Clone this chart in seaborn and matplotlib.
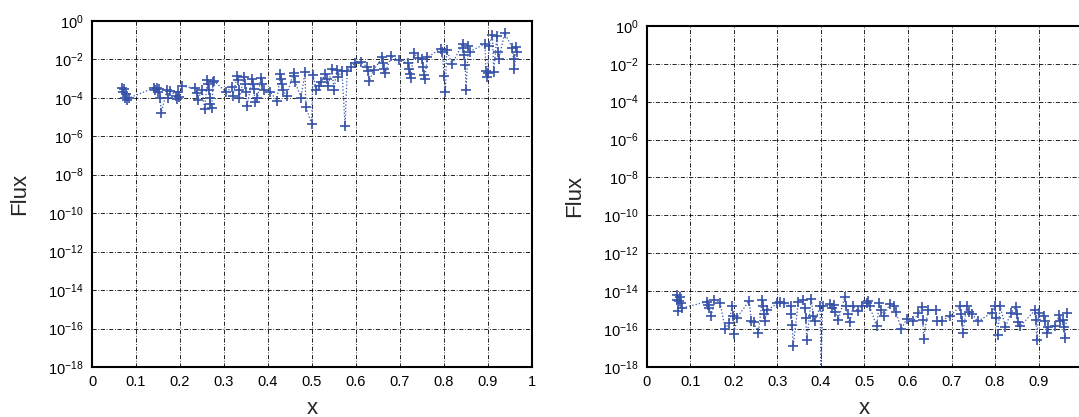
import numpy as np
import matplotlib
matplotlib.use("Agg")
import matplotlib.pyplot as plt
import seaborn as sns

# left panel: x and log10(flux)
left_x = [0.068, 0.070, 0.072, 0.074, 0.077, 0.080, 0.085,
          0.140, 0.143, 0.147, 0.150, 0.152, 0.155, 0.157, 0.170, 0.172, 0.178,
          0.190, 0.192, 0.195, 0.198, 0.205, 0.235, 0.238, 0.240, 0.250, 0.256,
          0.262, 0.264, 0.266, 0.268, 0.269, 0.272, 0.275, 0.278,
          0.305, 0.318, 0.320, 0.330, 0.332, 0.334, 0.335, 0.346, 0.348, 0.350,
          0.352, 0.364, 0.366, 0.368, 0.370, 0.376, 0.384, 0.386, 0.390,
          0.405, 0.420, 0.428, 0.430, 0.432, 0.434, 0.442, 0.458, 0.460, 0.462,
          0.475, 0.484, 0.486, 0.499, 0.502, 0.510, 0.515, 0.520, 0.530, 0.533,
          0.536, 0.545, 0.550, 0.556, 0.560, 0.568, 0.575, 0.580, 0.588, 0.598,
          0.612, 0.625, 0.628, 0.630, 0.640, 0.660, 0.662, 0.664, 0.666, 0.680,
          0.697, 0.718, 0.720, 0.722, 0.724, 0.732, 0.740, 0.750, 0.752, 0.754,
          0.756, 0.762, 0.792, 0.796, 0.800, 0.803, 0.806, 0.818, 0.842, 0.844,
          0.846, 0.848, 0.850, 0.855, 0.858, 0.893, 0.895, 0.897, 0.899, 0.902,
          0.910, 0.913, 0.920, 0.922, 0.924, 0.938, 0.955, 0.958, 0.960, 0.964,
          0.966]
left_logflux = [-3.5, -3.7, -3.55, -4.0, -3.8, -4.1, -4.0,
                -3.5, -3.6, -3.5, -3.7, -3.55, -4.0, -4.8, -3.6, -4.0, -3.65,
                -3.9, -4.05, -3.7, -3.95, -3.4, -3.5, -3.75, -4.1, -3.6, -4.6,
                -3.1, -3.3, -3.6, -4.0, -4.3, -4.55, -3.2, -3.15,
                -3.7, -3.45, -3.9, -2.85, -3.1, -3.6, -4.0, -2.9, -3.3, -3.7,
                -4.45, -3.0, -3.3, -3.55, -4.2, -4.0, -2.95, -3.3, -3.6,
                -3.7, -4.15, -2.75, -3.0, -3.3, -3.6, -3.9, -2.7, -2.85, -3.2,
                -4.0, -2.65, -4.5, -5.35, -2.8, -3.6, -3.4, -3.2, -2.75, -3.0,
                -3.4, -2.5, -3.6, -2.55, -2.9, -2.6, -5.45, -2.6, -2.4, -2.2,
                -2.15, -2.4, -2.6, -3.15, -2.55, -1.9, -2.2, -2.5, -2.7, -1.85,
                -2.05, -2.2, -2.5, -2.75, -2.95, -1.65, -1.95, -2.0, -2.4, -2.8,
                -3.05, -1.9, -1.45, -1.6, -2.85, -3.7, -1.5, -2.25, -1.2, -1.4,
                -1.8, -2.3, -3.6, -1.3, -1.6, -1.2, -2.6, -2.9, -2.7, -1.3,
                -0.75, -2.65, -0.8, -1.6, -2.0, -0.65, -1.4, -2.0, -2.5, -1.35,
                -1.6]

# right panel
right_x = [0.068, 0.070, 0.072, 0.074, 0.076, 0.078, 0.080,
           0.138, 0.140, 0.143, 0.148, 0.155, 0.168, 0.180, 0.188, 0.196, 0.198,
           0.200, 0.207, 0.235, 0.240, 0.245, 0.256, 0.265, 0.267, 0.269, 0.271,
           0.276, 0.300, 0.306, 0.314, 0.330, 0.332, 0.334, 0.336, 0.348, 0.358,
           0.363, 0.365, 0.367, 0.378, 0.382, 0.386, 0.398, 0.400, 0.404, 0.420,
           0.425, 0.430, 0.433, 0.440, 0.455, 0.458, 0.461, 0.466, 0.474, 0.485,
           0.494, 0.505, 0.509, 0.512, 0.528, 0.534, 0.537, 0.544, 0.558, 0.568,
           0.572, 0.585, 0.597, 0.612, 0.624, 0.632, 0.634, 0.636, 0.646, 0.664,
           0.667, 0.678, 0.697, 0.720, 0.722, 0.724, 0.726, 0.735, 0.740, 0.748,
           0.760, 0.792, 0.800, 0.803, 0.806, 0.812, 0.824, 0.836, 0.848, 0.850,
           0.852, 0.858, 0.892, 0.894, 0.896, 0.900, 0.912, 0.915, 0.920, 0.922,
           0.938, 0.948, 0.950, 0.956, 0.958, 0.960, 0.966]
right_logflux = [-14.2, -14.45, -15.05, -14.5, -14.3, -14.6, -14.9,
                 -14.55, -14.75, -14.9, -15.3, -14.45, -14.6, -16.0, -15.7, -14.8, -15.3,
                 -16.25, -15.4, -14.5, -15.6, -15.65, -16.2, -14.45, -14.8, -15.2, -15.6,
                 -15.0, -14.65, -14.55, -14.6, -14.8, -15.2, -15.8, -16.9, -14.55, -14.45,
                 -14.9, -15.4, -16.6, -14.4, -15.3, -15.6, -14.8, -18.2, -14.8, -14.7,
                 -14.9, -14.75, -15.1, -15.5, -14.3, -14.8, -15.2, -15.65, -14.8, -15.05,
                 -14.8, -14.6, -14.5, -14.8, -15.85, -14.65, -15.0, -15.3, -14.7, -14.8,
                 -15.1, -16.0, -15.45, -15.6, -15.15, -14.85, -15.5, -16.5, -15.0, -15.0,
                 -15.6, -15.55, -15.3, -14.8, -15.2, -15.6, -16.2, -14.8, -15.1, -15.2,
                 -15.6, -15.15, -14.8, -15.4, -16.3, -14.8, -15.9, -15.15, -14.85, -15.2,
                 -15.65, -15.85, -15.0, -15.5, -16.6, -15.15, -15.3, -15.6, -16.2, -15.9,
                 -15.85, -15.25, -15.6, -15.5, -15.9, -16.45, -15.15]

x_ticks = [0, 0.1, 0.2, 0.3, 0.4, 0.5, 0.6, 0.7, 0.8, 0.9, 1]
x_ticklabels = ["0", "0.1", "0.2", "0.3", "0.4", "0.5", "0.6", "0.7", "0.8", "0.9", "1"]
y_exponents = [0, -2, -4, -6, -8, -10, -12, -14, -16, -18]

sns.set_theme(style="white")
plt.rcParams['font.family'] = ['Liberation Sans', 'DejaVu Sans']
plt.rcParams['mathtext.fontset'] = 'custom'
plt.rcParams['mathtext.rm'] = 'Liberation Sans'
plt.rcParams['mathtext.it'] = 'Liberation Sans'
plt.rcParams['mathtext.default'] = 'regular'

line_color = "#3652a8"
grid_dash = (0, (5, 2, 1, 2))

fig = plt.figure(figsize=(10.79, 4.17), dpi=100)
ax1 = fig.add_axes([0.0853, 0.120, 0.4078, 0.830])
ax2 = fig.add_axes([0.5996, 0.120, 0.4032, 0.818])

panels = [(ax1, left_x, left_logflux), (ax2, right_x, right_logflux)]
for ax, xs, logs in panels:
    flux = 10.0 ** np.array(logs)
    sns.lineplot(x=xs, y=flux, ax=ax, sort=False, estimator=None,
                 color=line_color, linestyle=":", linewidth=0.9,
                 marker="+", markersize=6.5, markeredgewidth=1.2,
                 markeredgecolor=line_color)
    ax.set_yscale("log")
    ax.set_xlim(0, 1)
    ax.set_ylim(1e-18, 1e0)
    ax.set_xticks(x_ticks)
    ax.set_xticklabels(x_ticklabels)
    ax.set_yticks([10.0 ** e for e in y_exponents])
    ax.set_yticklabels([f"$10^{{{e}}}$" for e in y_exponents])
    ax.minorticks_off()
    ax.tick_params(axis="both", direction="in", length=4, width=0.8,
                   labelsize=10.5, colors="black", pad=6)
    ax.grid(True, color="black", linestyle=grid_dash, linewidth=0.6)
    for sp in ax.spines.values():
        sp.set_color("black")
        sp.set_linewidth(1.5)
    ax.set_xlabel("x", fontsize=16, labelpad=6)
    ax.set_ylabel("Flux", fontsize=16, labelpad=13)

fig.savefig("out.png", dpi=100)
